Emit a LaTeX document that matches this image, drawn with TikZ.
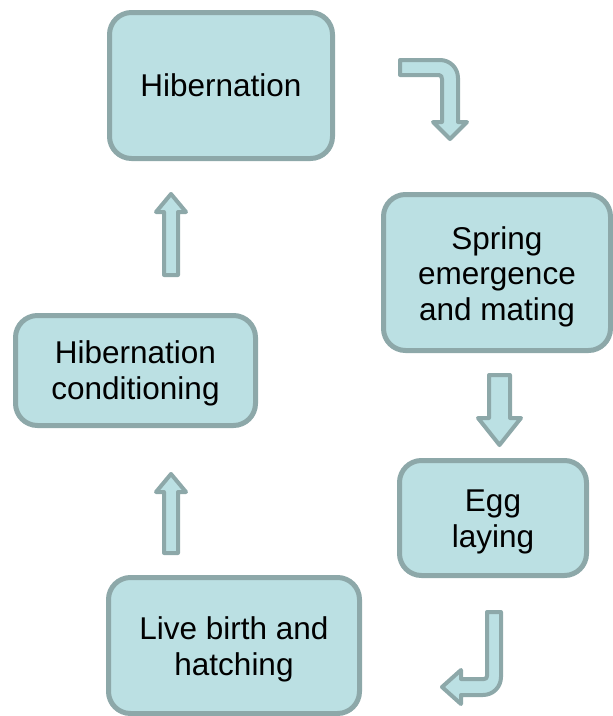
\documentclass[tikz,border=0pt]{standalone}
\usepackage{fontspec}
\setmainfont{Liberation Sans}
\definecolor{boxfill}{HTML}{BBE0E3}
\definecolor{boxline}{HTML}{8DA8A9}
\begin{document}
\begin{tikzpicture}[x=1pt,y=-1pt,
  stage/.style={draw=boxline,fill=boxfill,line width=5pt,rounded corners=22pt,inner sep=0pt},
  stagetext/.style={align=center,inner sep=0pt,font=\fontsize{31.5}{35.5}\selectfont},
  blockarrow/.style={draw=boxline,fill=boxfill,line width=4pt,line join=round}]
\useasboundingbox (0,0) rectangle (613,716);
\node[stage,minimum width=223pt,minimum height=146pt] (hib) at (221,85.5) {};
\node[stage,minimum width=227pt,minimum height=156pt] (spring) at (497,272.5) {};
\node[stage,minimum width=187pt,minimum height=115pt] (egg) at (493,518) {};
\node[stage,minimum width=240pt,minimum height=110pt] (cond) at (135.5,370.5) {};
\node[stage,minimum width=251pt,minimum height=136pt] (birth) at (234,645.5) {};
\node[stagetext] (hibt) at (hib.center) {Hibernation};
\node[stagetext] (springt) at ([yshift=-4pt]spring.center) {Spring\\emergence\\and mating};
\node[stagetext] (eggt) at ([yshift=-4pt]egg.center) {Egg\\laying};
\node[stagetext] (condt) at ([yshift=-3pt]cond.center) {Hibernation\\conditioning};
\node[stagetext] (birtht) at ([yshift=-4pt]birth.center) {Live birth and\\hatching};
% bent arrow top right
\draw[blockarrow] (400,60) -- (440,60) .. controls (450,60) and (458,68) .. (458,78) -- (458,122) -- (467,122) -- (450,139) -- (433,122) -- (442,122) -- (442,79) .. controls (442,77) and (441,75) .. (439,75) -- (400,75) -- cycle;
% straight down arrow
\draw[blockarrow] (489,375) -- (510,375) -- (510,418) -- (521,418) -- (499.5,445) -- (478,418) -- (489,418) -- cycle;
% bent arrow bottom right
\draw[blockarrow] (487,612) -- (501,612) -- (501,677) .. controls (501,687) and (493,695) .. (483,695) -- (461,695) -- (461,704) -- (442,687) -- (461,670) -- (461,679) -- (484,679) .. controls (486,679) and (487,678) .. (487,676) -- cycle;
% up arrows
\draw[blockarrow] (164,553) -- (178,553) -- (178,492) -- (186,492) -- (171,474) -- (156,492) -- (164,492) -- cycle;
\draw[blockarrow] (164,275) -- (178,275) -- (178,212) -- (186,212) -- (171,194) -- (156,212) -- (164,212) -- cycle;
\end{tikzpicture}
\end{document}
